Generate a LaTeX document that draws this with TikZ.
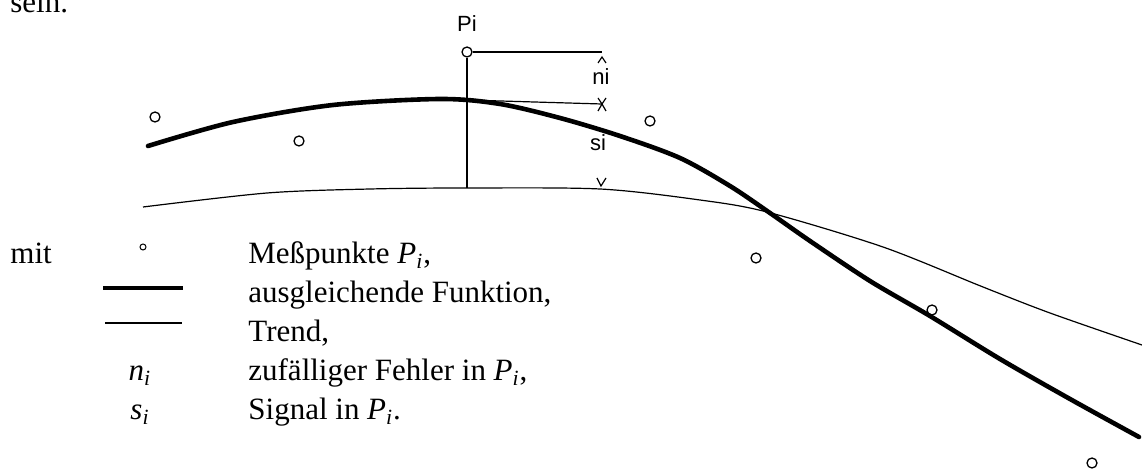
\documentclass[tikz,border=0pt]{standalone}
\usepackage{fontspec}
\setmainfont{Liberation Serif}
\setsansfont{Liberation Sans}
\newcommand{\ix}[1]{\textit{#1}\textsubscript{\textit{i}}}
\tikzset{
  mpkt/.style={circle,draw,line width=0.65pt,inner sep=0pt,minimum size=5pt},
  fkt/.style={line width=2.3pt,line cap=round},
  trend/.style={line width=0.6pt},
  lbl/.style={font=\sffamily\fontsize{11}{12}\selectfont,inner sep=0pt},
  txt/.style={anchor=base west,inner sep=0pt,font=\fontsize{15.5}{19.5}\selectfont},
}
\begin{document}
\begin{tikzpicture}[x=0.5pt,y=-0.5pt]
  \useasboundingbox (0,0) rectangle (1142,470);
  \node[txt] (sein) at (10,13) {sein.};

  % ausgleichende Funktion und Trend
  \draw[fkt] plot[smooth] coordinates {(148,146) (233,122) (333,105) (440,99)
    (500,104) (560,118) (620,136) (680,158) (730,186) (770,213) (810,241)
    (870,281) (930,316) (1000,359) (1070,399) (1139,437)};
  \draw[trend] plot[smooth] coordinates {(143,207) (267,193) (370,189) (466,188) (600,189)
    (700,200) (767,212) (883,247) (983,287) (1050,313) (1142,345)};

  % Messpunkte
  \node[mpkt] (m1) at (155,117) {};
  \node[mpkt] (m2) at (299,141) {};
  \node[mpkt] (Pi) at (467,52) {};
  \node[mpkt] (m4) at (650,121) {};
  \node[mpkt] (m5) at (756,258) {};
  \node[mpkt] (m6) at (932,310) {};
  \node[mpkt] (m7) at (1092,463) {};
  \node[lbl] (PiL) at (467,24) {Pi};

  % Fehler und Signal in Pi
  \coordinate (fkt) at (467,100);
  \coordinate (fuss) at (467,188);
  \coordinate (nE) at (602,52);
  \coordinate (sE) at (602,104);
  \coordinate (tE) at (601,186);
  \draw[trend] (Pi) -- (fuss);
  \draw[trend] (Pi) -- (nE);
  \draw[trend] (fkt) -- (sE);
  \draw[trend] (602,57) ++(-4,6) -- ++(4,-6) -- ++(4,6);
  \draw[trend] (sE) ++(-4,-6) -- (sE) -- ++(4,-6);
  \draw[trend] (sE) ++(-4,7) -- (sE) -- ++(4,7);
  \draw[trend] (tE) ++(-4,-8) -- (tE) -- ++(5,-8);
  \node[lbl] (ni) at (601,77) {ni};
  \node[lbl] (si) at (598,143) {si};

  % Legende
  \node[txt] (mit) at (10,264) {mit};
  \node[mpkt,minimum size=3pt,line width=0.5pt] (lp) at (143,247) {};
  \draw[fkt,line cap=butt] (103,288) -- (183,288);
  \draw[trend,line width=0.8pt] (105,323) -- (182,323);
  \node[txt,anchor=base] (ln) at (140,381) {\ix{n}};
  \node[txt,anchor=base] (ls) at (140,420) {\ix{s}};
  \node[txt] (t1) at (248,264) {Meßpunkte \ix{P},};
  \node[txt] (t2) at (248,303) {ausgleichende Funktion,};
  \node[txt] (t3) at (248,342) {Trend,};
  \node[txt] (t4) at (248,381) {zufälliger Fehler in \ix{P},};
  \node[txt] (t5) at (248,420) {Signal in \ix{P}.};
\end{tikzpicture}
\end{document}
